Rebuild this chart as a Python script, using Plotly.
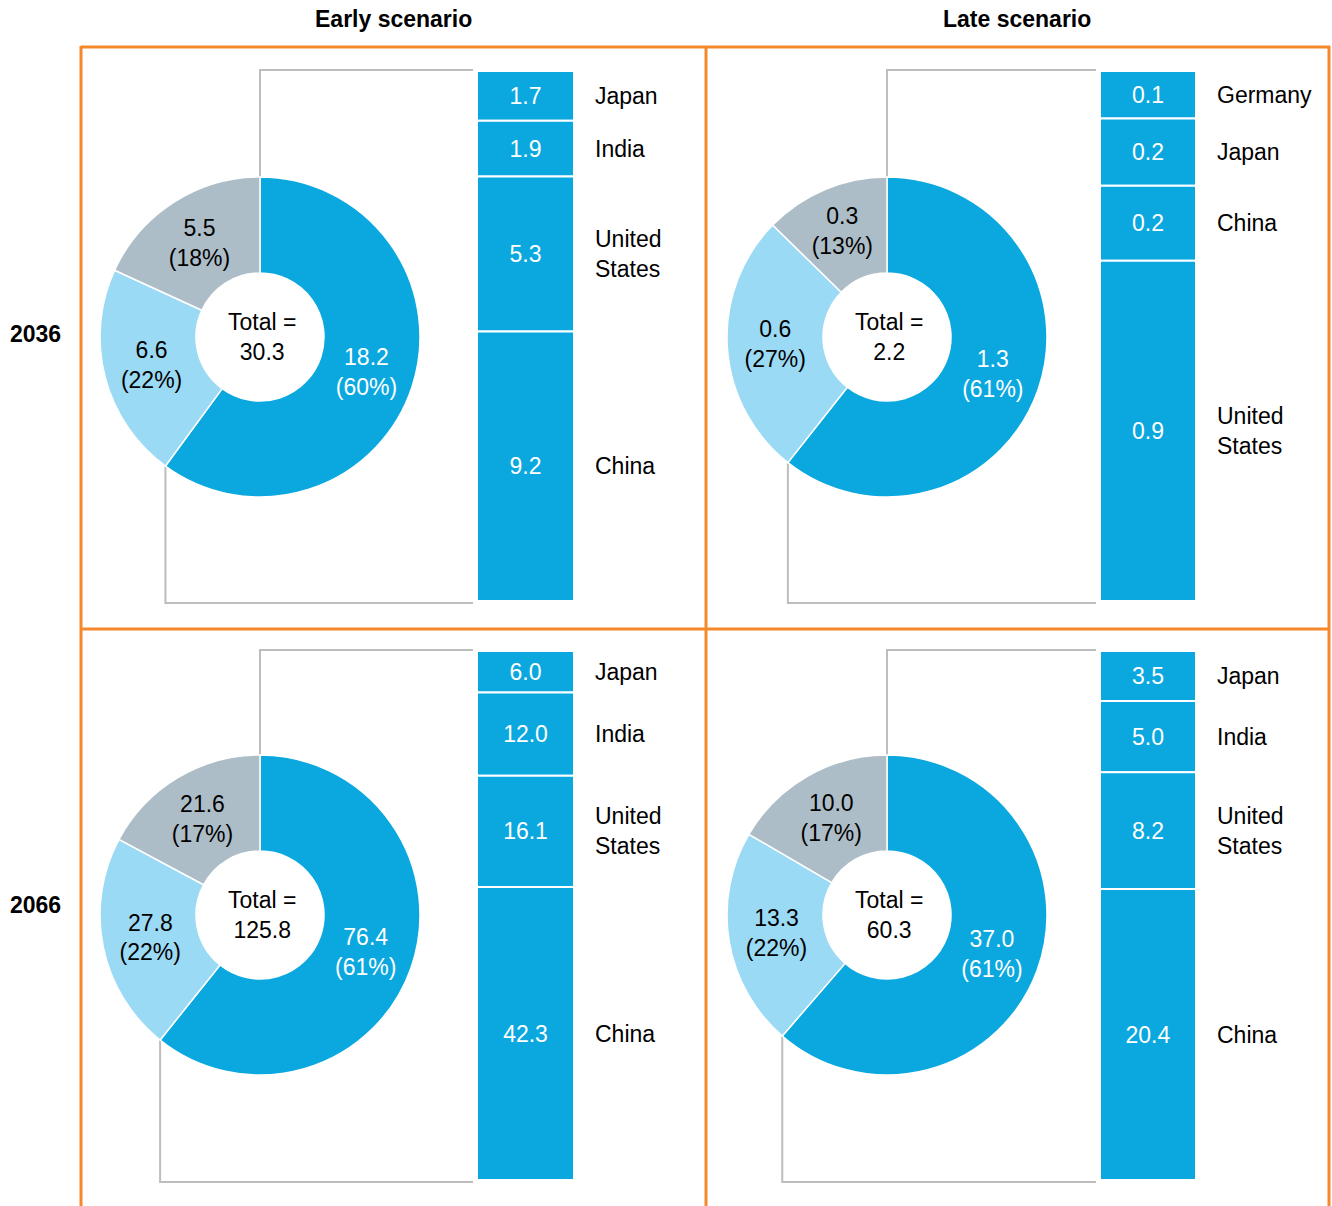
import math
import plotly.graph_objects as go

W, H = 1332, 1206

# ---------------- data ----------------
scenarios = ["Early scenario", "Late scenario"]
years = ["2036", "2066"]

# donut slices: [main group, second group, rest]
donut_early_2036 = [18.2, 6.6, 5.5]
donut_late_2036 = [1.34, 0.59, 0.28]
donut_early_2066 = [76.4, 27.8, 21.6]
donut_late_2066 = [37.0, 13.3, 10.0]

# breakdown of the main slice (top to bottom)
bar_countries_early_2036 = ["Japan", "India", "United<br>States", "China"]
bar_values_early_2036 = [1.7, 1.9, 5.3, 9.2]
bar_countries_late_2036 = ["Germany", "Japan", "China", "United<br>States"]
bar_values_late_2036 = [0.12, 0.17, 0.19, 0.86]
bar_countries_early_2066 = ["Japan", "India", "United<br>States", "China"]
bar_values_early_2066 = [6.0, 12.0, 16.1, 42.3]
bar_countries_late_2066 = ["Japan", "India", "United<br>States", "China"]
bar_values_late_2066 = [3.5, 5.0, 8.2, 20.4]

# ---------------- style ----------------
FONT = "Liberation Sans, Arial, sans-serif"
FS = 23
C_MAIN = "#0BA8E0"
C_LIGHT = "#9BDAF5"
C_GRAY = "#ADBDC7"
C_ORANGE = "#F5882A"
C_CONN = "#BDBDBD"

panels = [
    dict(donut=donut_early_2036, names=bar_countries_early_2036, vals=bar_values_early_2036,
         cx=260, cy=337, r=160, bx0=477, bx1=574, by0=71, by1=601, lx=593),
    dict(donut=donut_late_2036, names=bar_countries_late_2036, vals=bar_values_late_2036,
         cx=887, cy=337, r=160, bx0=1100, bx1=1196, by0=71, by1=601, lx=1215),
    dict(donut=donut_early_2066, names=bar_countries_early_2066, vals=bar_values_early_2066,
         cx=260, cy=915, r=160, bx0=477, bx1=574, by0=651, by1=1180, lx=593),
    dict(donut=donut_late_2066, names=bar_countries_late_2066, vals=bar_values_late_2066,
         cx=887, cy=915, r=160, bx0=1100, bx1=1196, by0=651, by1=1180, lx=1215),
]


def px(x):
    return x / W


def py(y):
    return 1 - y / H


fig = go.Figure()
shapes = []
annotations = []

for i, p in enumerate(panels):
    k = i + 1
    cx, cy, r = p["cx"], p["cy"], p["r"]
    d = p["donut"]
    total = sum(d)

    fig.add_trace(go.Pie(
        values=d,
        labels=["a", "b", "c"],
        sort=False,
        direction="clockwise",
        rotation=0,
        hole=0.4,
        marker=dict(colors=[C_MAIN, C_LIGHT, C_GRAY], line=dict(color="white", width=1.5)),
        texttemplate="%{value:.1f}<br>(%{percent:.0%})",
        textposition="inside",
        insidetextorientation="horizontal",
        textfont=dict(family=FONT, size=FS, color=["white", "black", "black"]),
        domain=dict(x=[px(cx - r), px(cx + r)], y=[py(cy + r), py(cy - r)]),
        showlegend=False,
        hoverinfo="skip",
    ))
    annotations.append(dict(
        x=px(cx + 2), y=py(cy), xref="paper", yref="paper",
        xanchor="center", yanchor="middle",
        text=f"Total =<br>{total:.1f}", showarrow=False,
        font=dict(family=FONT, size=FS, color="black"), align="center",
    ))

    # stacked bar (top to bottom)
    vals = p["vals"]
    bases = []
    acc = 0
    for v in vals:
        bases.append(acc)
        acc += v
    btotal = acc
    xa = f"x{k}"
    ya = f"y{k}"
    fig.add_trace(go.Bar(
        x=[0] * len(vals), y=vals, base=bases, width=1,
        marker=dict(color=C_MAIN, line=dict(color="white", width=2)),
        texttemplate="%{y:.1f}", textposition="inside", insidetextanchor="middle",
        textangle=0, constraintext="none",
        textfont=dict(family=FONT, size=FS, color="white"),
        xaxis=xa, yaxis=ya, showlegend=False, hoverinfo="skip",
    ))
    axkw = dict(visible=False, showgrid=False, zeroline=False, fixedrange=True)
    fig.layout[f"xaxis{k}"] = dict(domain=[px(p["bx0"]), px(p["bx1"])], range=[-0.5, 0.5],
                                    anchor=ya, **axkw)
    fig.layout[f"yaxis{k}"] = dict(domain=[py(p["by1"]), py(p["by0"])], range=[btotal, 0],
                                    anchor=xa, **axkw)
    for name, b, v in zip(p["names"], bases, vals):
        annotations.append(dict(
            x=px(p["lx"]), y=b + v / 2, xref="paper", yref=ya,
            text=name, showarrow=False, xanchor="left", yanchor="middle", align="left",
            font=dict(family=FONT, size=FS, color="black"),
        ))

    # connectors
    a = 2 * math.pi * d[0] / total
    ex = cx + r * math.sin(a)
    ey = cy - r * math.cos(a)
    xend = p["bx0"] - 4
    shapes.append(dict(type="path", xref="paper", yref="paper",
                       path=f"M {px(cx)},{py(cy - r)} L {px(cx)},{py(p['by0'] - 1)} L {px(xend)},{py(p['by0'] - 1)}",
                       line=dict(color=C_CONN, width=2), layer="below"))
    shapes.append(dict(type="path", xref="paper", yref="paper",
                       path=f"M {px(ex)},{py(ey)} L {px(ex)},{py(p['by1'] + 2)} L {px(xend)},{py(p['by1'] + 2)}",
                       line=dict(color=C_CONN, width=2), layer="below"))

# orange grid
for (x0, y0, x1, y1) in [(81, 47, 1330, 47), (81, 629, 1330, 629),
                         (81, 46, 81, 1210), (706, 46, 706, 1210), (1329, 46, 1329, 1210)]:
    shapes.append(dict(type="line", xref="paper", yref="paper",
                       x0=px(x0), y0=py(y0), x1=px(x1), y1=py(y1),
                       line=dict(color=C_ORANGE, width=3), layer="above"))

# titles
for t, x in zip(scenarios, [393, 1017]):
    annotations.append(dict(x=px(x), y=py(19), xref="paper", yref="paper", text=f"<b>{t}</b>",
                            xanchor="center", yanchor="middle",
                            showarrow=False, font=dict(family=FONT, size=FS, color="black")))
for yl, y in zip(years, [334, 905]):
    annotations.append(dict(x=px(35), y=py(y), xref="paper", yref="paper", text=f"<b>{yl}</b>",
                            xanchor="center", yanchor="middle",
                            showarrow=False, font=dict(family=FONT, size=FS, color="black")))

fig.update_layout(
    width=W, height=H,
    margin=dict(l=0, r=0, t=0, b=0),
    paper_bgcolor="white", plot_bgcolor="rgba(0,0,0,0)",
    barmode="overlay",
    shapes=shapes, annotations=annotations,
    uniformtext=dict(minsize=FS, mode="show"),
    font=dict(family=FONT, size=FS),
)

fig.write_html(
    "out.html",
    config={"displayModeBar": False},
    post_script="document.body.style.margin='0';document.body.style.overflow='hidden';",
)
